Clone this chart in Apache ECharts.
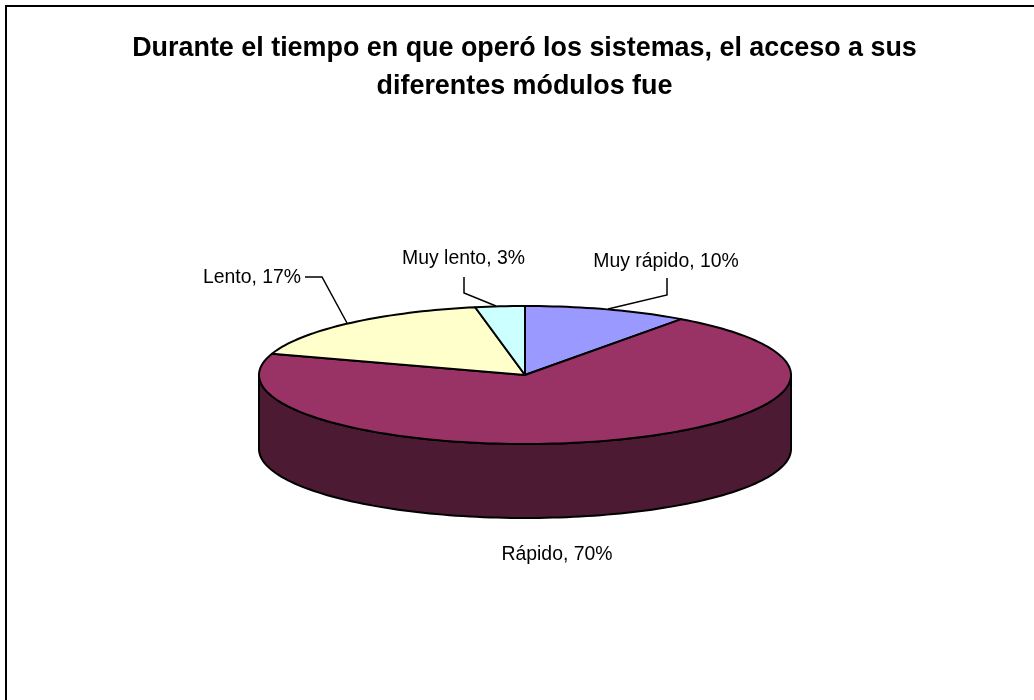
<!DOCTYPE html>
<html>
<head>
<meta charset="utf-8">
<style>html,body{margin:0;padding:0;background:#fff}#chart{width:1034px;height:700px}</style>
<script src="https://cdn.jsdelivr.net/npm/echarts@6/dist/echarts.min.js"></script>
</head>
<body>
<div id="chart"></div>
<script>
// Survey answers, in percent, clockwise from twelve o'clock
const categories = ['Muy rápido', 'Rápido', 'Lento', 'Muy lento'];
const shares = [10, 70, 17, 3];
const topColors = ['#9999FF', '#993366', '#FFFFCC', '#CCFFFF'];
const sideColors = ['#4D4D80', '#4D1A33', '#808066', '#668080'];
const titleLines = ['Durante el tiempo en que operó los sistemas, el acceso a sus', 'diferentes módulos fue'];

// Tilted disc geometry
const disc = { cx: 525, cy: 375, rx: 266, ry: 69, depth: 74 };
const ARC_STEP = 1.5;

// Label anchors and leader paths, one per category
const labelPlacement = [
  { x: 666, y: 262, leader: [[667, 278], [667, 295], [608, 309]] },
  { x: 557, y: 555, leader: null },
  { x: 203, y: 278, leader: [[305, 277], [322, 277], [347, 323]] },
  { x: 463.5, y: 259, leader: [[464, 277], [464, 293], [496, 306]] }
];

const total = shares.reduce((a, b) => a + b, 0);
const startAngle = i => shares.slice(0, i).reduce((a, b) => a + b, 0) / total * 360;

function rimPoint(deg, drop) {
  const r = deg * Math.PI / 180;
  return [disc.cx + disc.rx * Math.sin(r), disc.cy - disc.ry * Math.cos(r) + (drop || 0)];
}
function arc(from, to, drop) {
  const pts = [];
  const n = Math.max(1, Math.ceil(Math.abs(to - from) / ARC_STEP));
  for (let k = 0; k <= n; k++) pts.push(rimPoint(from + (to - from) * k / n, drop));
  return pts;
}
const outline = { stroke: '#000', lineWidth: 2, lineJoin: 'round' };

function sideItem(params, api) {
  const i = params.dataIndex;
  const from = Math.max(startAngle(i), 90);
  const to = Math.min(startAngle(i) + api.value(1) / total * 360, 270);
  if (to <= from) return { type: 'group', children: [] };
  return {
    type: 'polygon',
    shape: { points: arc(from, to, 0).concat(arc(to, from, disc.depth)) },
    style: Object.assign({ fill: sideColors[i] }, outline)
  };
}
function topItem(params, api) {
  const i = params.dataIndex;
  const from = startAngle(i);
  const to = from + api.value(1) / total * 360;
  const children = [{
    type: 'polygon',
    shape: { points: [[disc.cx, disc.cy]].concat(arc(from, to, 0)) },
    style: Object.assign({ fill: topColors[i] }, outline)
  }];
  const place = labelPlacement[i];
  if (place.leader) {
    children.push({
      type: 'polyline',
      shape: { points: place.leader },
      style: { fill: null, stroke: '#000', lineWidth: 1.5 }
    });
  }
  children.push({
    type: 'text',
    x: place.x, y: place.y,
    style: {
      text: categories[i] + ', ' + api.value(1) + '%',
      x: 0, y: 0,
      fill: '#000',
      font: '19.4px "Liberation Sans", Arial, sans-serif',
      align: i === 2 ? 'left' : 'center',
      verticalAlign: 'middle'
    }
  });
  return { type: 'group', children };
}

const rows = categories.map((c, i) => [i, shares[i]]);
const chart = echarts.init(document.getElementById('chart'), null, { renderer: 'canvas' });
chart.setOption({
  animation: false,
  backgroundColor: '#fff',
  title: {
    text: titleLines.join('\n'),
    left: 519.5, top: 25,
    textAlign: 'center',
    textStyle: { fontFamily: '"Liberation Sans", Arial, sans-serif', fontWeight: 'bold', fontSize: 26.9, lineHeight: 38, color: '#000' }
  },
  graphic: [{
    type: 'rect',
    shape: { x: 6, y: 6, width: 1200, height: 900 },
    style: { fill: null, stroke: '#000', lineWidth: 2 },
    silent: true
  }],
  series: [
    { type: 'custom', coordinateSystem: 'none', encode: { value: 1 }, data: rows, renderItem: sideItem, silent: true, z: 2 },
    { type: 'custom', coordinateSystem: 'none', encode: { value: 1 }, data: rows, renderItem: topItem, silent: true, z: 3 }
  ]
});
</script>
</body>
</html>
